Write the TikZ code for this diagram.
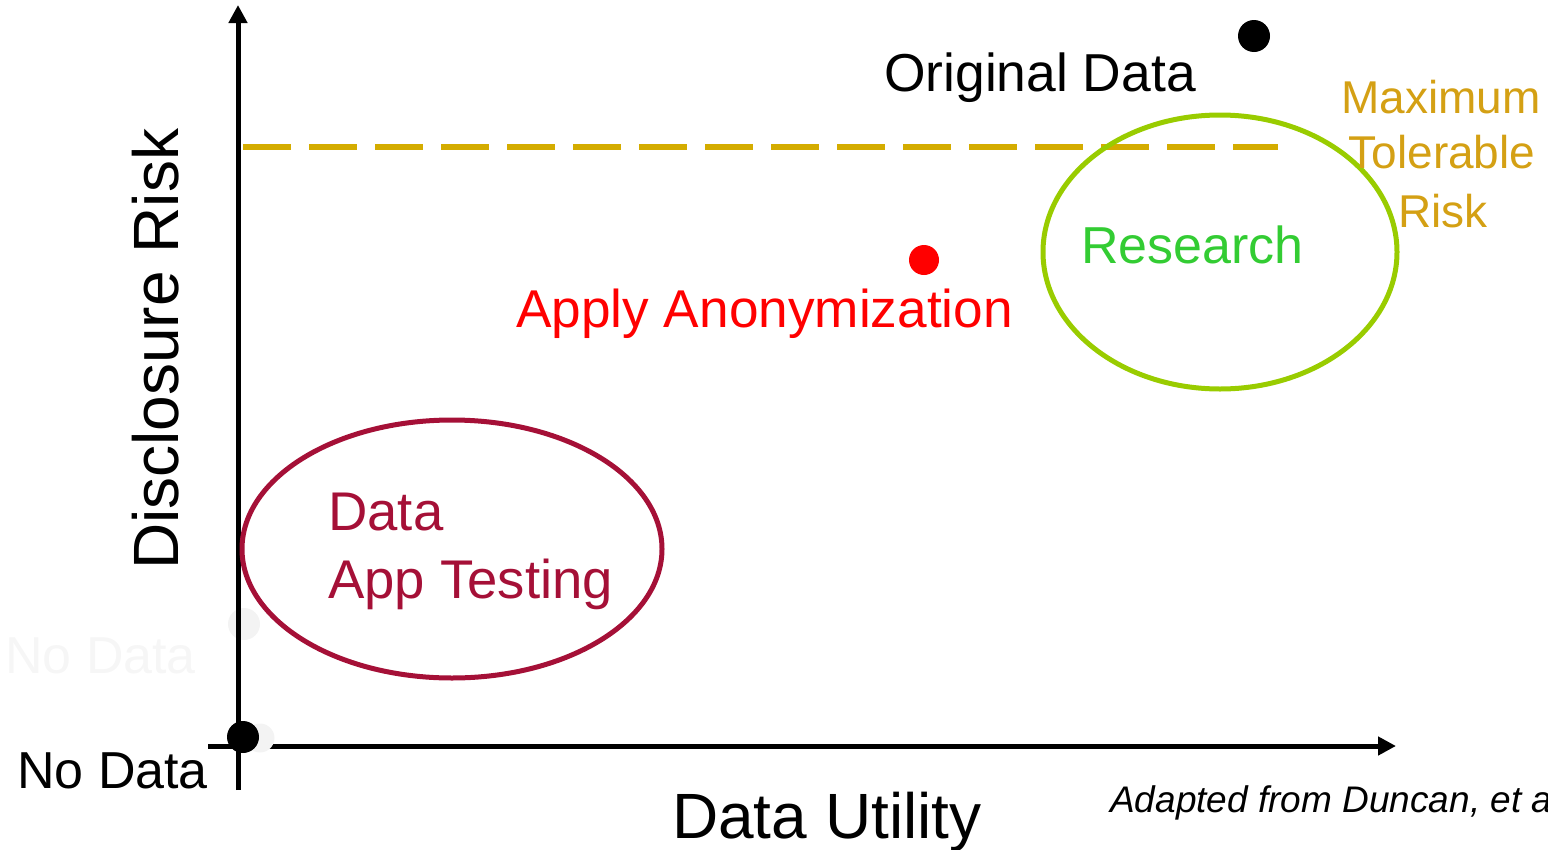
\documentclass[tikz,border=0pt]{standalone}
\usepackage{fontspec}
\setmainfont{Liberation Sans}
\usetikzlibrary{arrows.meta,shapes.geometric}
\definecolor{gold}{RGB}{212,172,0}
\definecolor{goldtxt}{RGB}{212,160,20}
\definecolor{lime}{RGB}{153,204,0}
\definecolor{resgreen}{RGB}{51,204,51}
\definecolor{crimson}{RGB}{165,16,55}
\definecolor{ghost}{RGB}{243,243,243}
\definecolor{ghosttxt}{RGB}{246,246,246}
\tikzset{
  lbl/.style={inner sep=0pt, anchor=base west},
  f52/.style={font=\fontsize{52}{60}\selectfont},
  axis/.style={line width=5pt, -{Triangle[length=18pt,width=18pt]}},
  dot/.style={circle, fill=black, inner sep=0pt, minimum size=32pt},
}
\begin{document}
\begin{tikzpicture}[x=1pt,y=-1pt]
\useasboundingbox (0,0) rectangle (1548,849);
% ghost elements
\node[circle, fill=ghost, inner sep=0pt, minimum size=32pt] (g1) at (244,624) {};
\node[lbl, f52, text=ghosttxt] (gnd) at (5,673) {No Data};
% axes
\coordinate (ybot) at (238,790);
\coordinate (ytop) at (238,5);
\coordinate (xl) at (208,746);
\coordinate (xr) at (1396,746);
\draw[axis] (ybot) -- (ytop);
\draw[axis] (xl) -- (xr);
\node[circle, fill=ghost, inner sep=0pt, minimum size=29pt] (g2) at (260,738) {};
\node[dot] (origin) at (243,737) {};
% max tolerable risk line
\coordinate (m1) at (243,147);
\coordinate (m2) at (1278,147);
\draw[gold, line width=6pt, dash pattern=on 48pt off 18pt] (m1) -- (m2);
% ellipses
\node[draw=lime, line width=5pt, ellipse, minimum width=354pt, minimum height=274pt, inner sep=0pt] (res) at (1220,252) {};
\node[draw=crimson, line width=5pt, ellipse, minimum width=420pt, minimum height=258pt, inner sep=0pt] (test) at (452,549) {};
% dots
\node[dot] (orig) at (1254,36) {};
\node[circle, fill=red, inner sep=0pt, minimum width=30pt, minimum height=28pt] (anon) at (924,260) {};
% labels
\node[lbl, font=\fontsize{53.4}{60}\selectfont] (origt) at (884,91) {Original Data};
\node[lbl, font=\fontsize{53.2}{60}\selectfont, text=red] (anont) at (516,327) {Apply Anonymization};
\node[lbl, f52, text=resgreen] (rest) at (1081,263) {Research};
\node[lbl, font=\fontsize{54.5}{60}\selectfont, text=crimson] (t1) at (328,530) {Data};
\node[lbl, font=\fontsize{54.5}{60}\selectfont, text=crimson] (t2) at (328,598) {App Testing};
\node[lbl, font=\fontsize{46}{57}\selectfont, text=goldtxt] (mx1) at (1341,113) {Maximum};
\node[inner sep=0pt, anchor=base, font=\fontsize{46}{57}\selectfont, text=goldtxt] (mx2) at (1442,168) {Tolerable};
\node[inner sep=0pt, anchor=base, font=\fontsize{46}{57}\selectfont, text=goldtxt] (mx3) at (1443,227) {Risk};
\node[lbl, f52] (nd) at (17,788) {No Data};
\node[lbl, font=\fontsize{64}{70}\selectfont] (du) at (672,838) {Data Utility};
\node[lbl, font=\fontsize{64}{70}\selectfont, rotate=90] (dr) at (178,570) {Disclosure Risk};
\node[lbl, font=\fontsize{37}{42}\selectfont\itshape] (src) at (1110,812) {Adapted from Duncan, et al.};
\end{tikzpicture}
\end{document}
